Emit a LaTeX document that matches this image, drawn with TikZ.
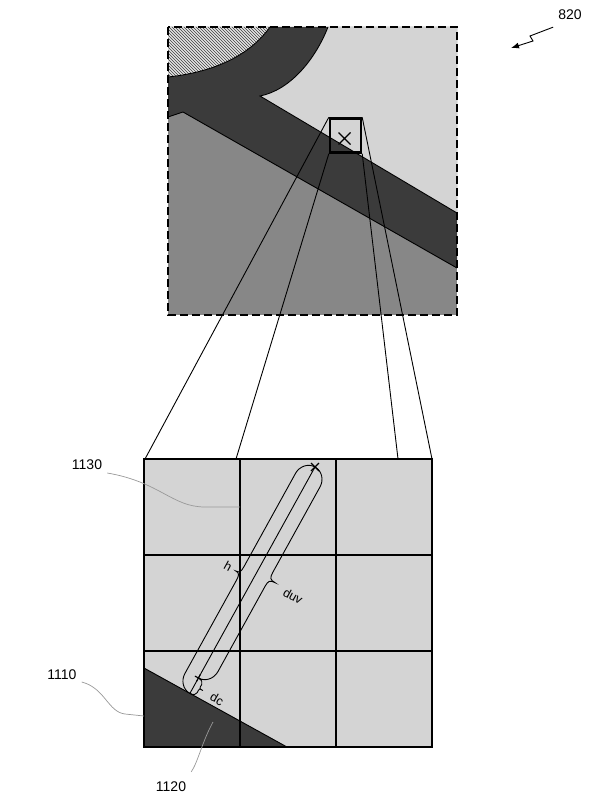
\documentclass[tikz,border=0pt]{standalone}
\usepackage{fontspec}
\setmainfont{Liberation Sans}
\usetikzlibrary{patterns,calc,arrows.meta}
\begin{document}
\begin{tikzpicture}[x=1pt,y=-1pt,
  lab/.style={font=\fontsize{14}{16}\selectfont, inner sep=0pt},
  meas/.style={font=\fontsize{12.5}{14}\selectfont, inner sep=0pt, rotate=-29},
  leader/.style={draw=black!40, line width=0.7pt},
  edgeline/.style={line width=0.9pt},
  ray/.style={line width=0.9pt},
  gridline/.style={line width=1.3pt},
  bracepath/.style={line width=0.9pt},
  lightfill/.style={fill=black!17},
  medfill/.style={fill=black!47},
  darkfill/.style={fill=black!77},
  hatchfill/.style={fill=black!10, postaction={pattern=north west lines, pattern color=black!75}},
  border/.style={line width=1.6pt, dash pattern=on 8pt off 4pt}
]
\useasboundingbox (0,0) rectangle (614,800);

% ---------- top square ----------
\fill[medfill] (168,27) rectangle (457,315);
\fill[darkfill] (168,27) -- (457,27) -- (457,268) -- (183,112) -- (168,117) -- cycle;
\fill[lightfill] (328,27) -- (457,27) -- (457,213) -- (260,96) .. controls (290,90) and (315,60) .. (328,27) -- cycle;
\fill[hatchfill] (168,27) -- (270,27) .. controls (250,55) and (215,72) .. (168,77) -- cycle;
\draw[edgeline] (270,27) .. controls (250,55) and (215,72) .. (168,77);
\draw[edgeline] (328,27) .. controls (315,60) and (290,90) .. (260,96) -- (457,213);
\draw[edgeline] (168,117) -- (183,112) -- (457,268);
\draw[border] (168,27) rectangle (457,315);

% zoom box
\node[draw, line width=2.4pt, minimum width=31pt, minimum height=34pt, inner sep=0pt] (zbox) at (345.5,135.5) {};
\draw[line width=1.3pt] ($(zbox.center)+(-7,-3)$) -- ($(zbox.center)+(5,9)$)
                        ($(zbox.center)+(-7,9)$) -- ($(zbox.center)+(5,-3)$);

% ---------- bottom grid ----------
\coordinate (r1) at (145,459);
\coordinate (r2) at (236,459);
\coordinate (r3) at (398,459);
\coordinate (r4) at (432,459);

\fill[lightfill] (144,459) rectangle (432,747);
\fill[darkfill] (144,668) -- (287,747) -- (144,747) -- cycle;
\draw[edgeline] (144,668) -- (287,747);
\foreach \gx in {144,240,336,432} \draw[gridline] (\gx,459) -- (\gx,747);
\foreach \gy in {459,555,651,747} \draw[gridline] (144,\gy) -- (432,\gy);
\draw[line width=1.8pt] (240,459) rectangle (336,555);
\draw[line width=1.6pt] (144,459) rectangle (432,747);

% rays from zoom box to grid
\draw[ray] (zbox.north west) -- (r1);
\draw[ray] (zbox.south west) -- (r2);
\draw[ray] (zbox.south east) -- (r3);
\draw[ray] (zbox.north east) -- (r4);

% ---------- measurement ----------
\coordinate (E) at (189.9,693.4);
\coordinate (P) at (198.4,678.0);
\coordinate (X) at (315,467);
\draw[bracepath] (E) -- (X);
\draw[line width=1.1pt] (311,463) -- (319,471) (311,471) -- (319,463);

% h brace (left side)
\begin{scope}[shift={(E)}, rotate=61.07]
  \draw[bracepath] (0,0) .. controls (0,-8) and (7,-14) .. (15,-14) -- (121.35,-14)
     .. controls (127.35,-14) and (129.35,-15) .. (129.35,-19) .. controls (129.35,-15) and (131.35,-14) .. (137.35,-14)
     -- (243.7,-14) .. controls (251.7,-14) and (258.7,-8) .. (258.7,0);
  % dc brace (right side, E to P)
  \draw[bracepath] (0,0) .. controls (0,4) and (2,6) .. (4,6) -- (6.8,6)
     .. controls (8.8,6) .. (8.8,10) .. controls (8.8,6) .. (10.8,6)
     -- (13.6,6) .. controls (15.6,6) and (17.6,4) .. (17.6,0);
  % plus mark at P
  \draw[line width=1.1pt] (13.6,0) -- (21.6,0) (17.6,-4) -- (17.6,4);
\end{scope}
% duv brace (right side, P to X)
\begin{scope}[shift={(P)}, rotate=61.07]
  \draw[bracepath] (0,0) .. controls (0,8) and (7,14) .. (15,14) -- (112.5,14)
     .. controls (118.5,14) and (120.5,15) .. (120.5,21) .. controls (120.5,15) and (122.5,14) .. (128.5,14)
     -- (226.1,14) .. controls (234.1,14) and (241.1,8) .. (241.1,0);
\end{scope}

\node[meas] (lh) at (228,566) {h};
\node[meas] (lduv) at (293,596) {duv};
\node[meas] (ldc) at (217,699) {dc};

% ---------- reference labels ----------
\node[lab] (n1130) at (87,465) {1130};
\node[lab] (n1110) at (62,675) {1110};
\node[lab] (n1120) at (171,787) {1120};
\node[lab] (n820) at (570,15) {820};

\coordinate (t1130) at (240,507);
\coordinate (t1110) at (144,716);
\coordinate (t1120) at (213,722);
\draw[leader] ($(n1130.east)+(5,8)$) .. controls (160,482) and (172,507) .. (205,507) -- (t1130);
\draw[leader] ($(n1110.east)+(5,7)$) .. controls (105,688) and (108,712) .. (125,714) -- (t1110);
\draw[leader] ($(n1120.north east)+(5,-10)$) .. controls (198,762) and (202,742) .. (t1120);

\coordinate (a820) at (511,48);
\draw[line width=0.9pt, -{Latex[length=8pt,width=6pt]}] ($(n820.south west)+(-5,7)$) -- (530,36) -- (533,41) -- (a820);
\end{tikzpicture}
\end{document}
